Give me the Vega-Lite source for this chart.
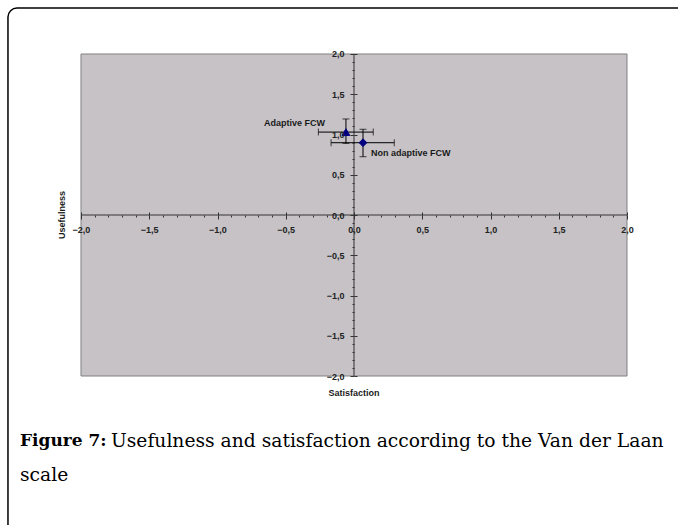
{
  "$schema": "https://vega.github.io/schema/vega-lite/v6.json",
  "width": 678,
  "height": 525,
  "autosize": "none",
  "padding": 0,
  "background": "white",
  "config": {
    "view": {"stroke": null},
    "axis": {"labelFont": "Liberation Sans", "labelFontWeight": "bold", "labelFontSize": 9, "labelColor": "#222222", "tickColor": "#333333", "domain": false, "grid": false, "labelOverlap": false, "labelFlush": false, "zindex": 1}
  },
  "data": {"values": [{"anchor": 1}]},
  "datasets": {
    "pts": [
      {"series": "Adaptive FCW", "sat": -0.059, "use": 1.03, "satLo": -0.261, "satHi": 0.141, "useLo": 0.89, "useHi": 1.193},
      {"series": "Non adaptive FCW", "sat": 0.066, "use": 0.898, "satLo": -0.168, "satHi": 0.295, "useLo": 0.724, "useHi": 1.065}
    ]
  },
  "resolve": {"axis": {"x": "independent", "y": "independent"}},
  "layer": [
    {
      "mark": {"type": "rect", "fillOpacity": 0, "stroke": "#000000", "strokeWidth": 1.5, "cornerRadius": 9},
      "encoding": {
        "x": {"datum": -2.535, "type": "quantitative", "scale": {"domain": [-2.5934, 2.3736], "nice": false, "zero": false}, "axis": null},
        "x2": {"datum": 3},
        "y": {"datum": 2.571, "type": "quantitative", "scale": {"domain": [-3.8509, 2.6708], "nice": false, "zero": false}, "axis": null},
        "y2": {"datum": -5}
      }
    },
    {
      "mark": {"type": "rect", "fill": "#c6c2c6", "stroke": "#808080", "strokeWidth": 1},
      "encoding": {
        "x": {"datum": -2, "type": "quantitative", "scale": {"domain": [-2.5934, 2.3736], "nice": false, "zero": false},
          "axis": {"orient": "bottom", "offset": -310, "zindex": 2, "values": [-2, -1.5, -1, -0.5, 0, 0.5, 1, 1.5, 2], "labelExpr": "replace(format(datum.value, '.1f'), '.', ',')", "tickSize": 4, "labelPadding": 6, "title": null}},
        "x2": {"datum": 2},
        "y": {"datum": 2, "type": "quantitative", "scale": {"domain": [-3.8509, 2.6708], "nice": false, "zero": false},
          "axis": {"orient": "left", "offset": -354, "zindex": 2, "values": [-2, -1.5, -1, -0.5, 0, 0.5, 1, 1.5, 2], "labelExpr": "replace(format(datum.value, '.1f'), '.', ',')", "tickSize": 4, "labelPadding": 6, "title": null}},
        "y2": {"datum": -2}
      }
    },
    {
      "mark": {"type": "rule", "color": "#333333", "strokeWidth": 1},
      "encoding": {
        "x": {"datum": -2, "type": "quantitative", "scale": {"domain": [-2.5934, 2.3736], "nice": false, "zero": false},
          "axis": {"orient": "top", "offset": -215, "zindex": 2, "values": [-2, -1.5, -1, -0.5, 0, 0.5, 1, 1.5, 2], "labels": false, "tickSize": 3, "title": null}},
        "x2": {"datum": 2},
        "y": {"datum": 0, "type": "quantitative", "scale": {"domain": [-3.8509, 2.6708], "nice": false, "zero": false},
          "axis": {"orient": "right", "offset": -324, "zindex": 2, "values": [-2, -1.5, -1, -0.5, 0, 0.5, 1, 1.5, 2], "labels": false, "tickSize": 3, "title": null}}
      }
    },
    {
      "mark": {"type": "rule", "color": "#333333", "strokeWidth": 1},
      "encoding": {
        "x": {"datum": 0, "type": "quantitative", "scale": {"domain": [-2.5934, 2.3736], "nice": false, "zero": false},
          "axis": {"orient": "bottom", "offset": -310, "zindex": 2, "values": [-1.9, -1.8, -1.7, -1.6, -1.4, -1.3, -1.2, -1.1, -0.9, -0.8, -0.7, -0.6, -0.4, -0.3, -0.2, -0.1, 0.1, 0.2, 0.3, 0.4, 0.6, 0.7, 0.8, 0.9, 1.1, 1.2, 1.3, 1.4, 1.6, 1.7, 1.8, 1.9], "labels": false, "tickSize": 2, "title": null}},
        "y": {"datum": -2, "type": "quantitative", "scale": {"domain": [-3.8509, 2.6708], "nice": false, "zero": false},
          "axis": {"orient": "left", "offset": -354, "zindex": 2, "values": [-1.9, -1.8, -1.7, -1.6, -1.4, -1.3, -1.2, -1.1, -0.9, -0.8, -0.7, -0.6, -0.4, -0.3, -0.2, -0.1, 0.1, 0.2, 0.3, 0.4, 0.6, 0.7, 0.8, 0.9, 1.1, 1.2, 1.3, 1.4, 1.6, 1.7, 1.8, 1.9], "labels": false, "tickSize": 2, "title": null}},
        "y2": {"datum": 2}
      }
    },
    {
      "data": {"name": "pts"},
      "mark": {"type": "rule", "color": "#000000", "strokeWidth": 1},
      "encoding": {
        "x": {"field": "satLo", "type": "quantitative", "scale": {"domain": [-2.5934, 2.3736], "nice": false, "zero": false}, "axis": null},
        "x2": {"field": "satHi"},
        "y": {"field": "use", "type": "quantitative", "scale": {"domain": [-3.8509, 2.6708], "nice": false, "zero": false}, "axis": null}
      }
    },
    {
      "data": {"name": "pts"},
      "mark": {"type": "rule", "color": "#000000", "strokeWidth": 1},
      "encoding": {
        "x": {"field": "sat", "type": "quantitative", "scale": {"domain": [-2.5934, 2.3736], "nice": false, "zero": false}, "axis": null},
        "y": {"field": "useLo", "type": "quantitative", "scale": {"domain": [-3.8509, 2.6708], "nice": false, "zero": false}, "axis": null},
        "y2": {"field": "useHi"}
      }
    },
    {
      "data": {"name": "pts"},
      "transform": [{"fold": ["satLo", "satHi"], "as": ["k", "v"]}],
      "mark": {"type": "tick", "orient": "vertical", "color": "#000000", "thickness": 1, "size": 7},
      "encoding": {
        "x": {"field": "v", "type": "quantitative", "scale": {"domain": [-2.5934, 2.3736], "nice": false, "zero": false}, "axis": null},
        "y": {"field": "use", "type": "quantitative", "scale": {"domain": [-3.8509, 2.6708], "nice": false, "zero": false}, "axis": null}
      }
    },
    {
      "data": {"name": "pts"},
      "transform": [{"fold": ["useLo", "useHi"], "as": ["k", "v"]}],
      "mark": {"type": "tick", "orient": "horizontal", "color": "#000000", "thickness": 1, "size": 7},
      "encoding": {
        "x": {"field": "sat", "type": "quantitative", "scale": {"domain": [-2.5934, 2.3736], "nice": false, "zero": false}, "axis": null},
        "y": {"field": "v", "type": "quantitative", "scale": {"domain": [-3.8509, 2.6708], "nice": false, "zero": false}, "axis": null}
      }
    },
    {
      "data": {"name": "pts"},
      "mark": {"type": "point", "filled": true, "opacity": 1, "size": 60, "color": "#000080", "stroke": "#000080", "strokeWidth": 1},
      "encoding": {
        "x": {"field": "sat", "type": "quantitative", "scale": {"domain": [-2.5934, 2.3736], "nice": false, "zero": false}, "axis": null},
        "y": {"field": "use", "type": "quantitative", "scale": {"domain": [-3.8509, 2.6708], "nice": false, "zero": false}, "axis": null},
        "shape": {"field": "series", "type": "nominal", "scale": {"domain": ["Adaptive FCW", "Non adaptive FCW"], "range": ["triangle-up", "diamond"]}, "legend": null}
      }
    },
    {
      "data": {"name": "pts"},
      "transform": [{"filter": "datum.series == 'Adaptive FCW'"}],
      "mark": {"type": "text", "align": "right", "baseline": "middle", "dx": -21, "dy": -9, "font": "Liberation Sans", "fontWeight": "bold", "fontSize": 9, "color": "#1a1a1a"},
      "encoding": {
        "x": {"field": "sat", "type": "quantitative", "scale": {"domain": [-2.5934, 2.3736], "nice": false, "zero": false}, "axis": null},
        "y": {"field": "use", "type": "quantitative", "scale": {"domain": [-3.8509, 2.6708], "nice": false, "zero": false}, "axis": null},
        "text": {"field": "series"}
      }
    },
    {
      "data": {"name": "pts"},
      "transform": [{"filter": "datum.series == 'Non adaptive FCW'"}],
      "mark": {"type": "text", "align": "left", "baseline": "middle", "dx": 8, "dy": 10, "font": "Liberation Sans", "fontWeight": "bold", "fontSize": 9, "color": "#1a1a1a"},
      "encoding": {
        "x": {"field": "sat", "type": "quantitative", "scale": {"domain": [-2.5934, 2.3736], "nice": false, "zero": false}, "axis": null},
        "y": {"field": "use", "type": "quantitative", "scale": {"domain": [-3.8509, 2.6708], "nice": false, "zero": false}, "axis": null},
        "text": {"field": "series"}
      }
    },
    {
      "mark": {"type": "text", "align": "center", "baseline": "middle", "font": "Liberation Sans", "fontWeight": "bold", "fontSize": 9, "color": "#1a1a1a", "text": "Satisfaction"},
      "encoding": {
        "x": {"datum": 0, "type": "quantitative", "scale": {"domain": [-2.5934, 2.3736], "nice": false, "zero": false}, "axis": null},
        "y": {"datum": -2.211, "type": "quantitative", "scale": {"domain": [-3.8509, 2.6708], "nice": false, "zero": false}, "axis": null}
      }
    },
    {
      "mark": {"type": "text", "align": "center", "baseline": "middle", "angle": 270, "font": "Liberation Sans", "fontWeight": "bold", "fontSize": 9, "color": "#1a1a1a", "text": "Usefulness"},
      "encoding": {
        "x": {"datum": -2.139, "type": "quantitative", "scale": {"domain": [-2.5934, 2.3736], "nice": false, "zero": false}, "axis": null},
        "y": {"datum": 0, "type": "quantitative", "scale": {"domain": [-3.8509, 2.6708], "nice": false, "zero": false}, "axis": null}
      }
    },
    {
      "mark": {"type": "text", "align": "left", "baseline": "middle", "font": "DejaVu Serif", "fontWeight": "bold", "fontSize": 17, "color": "#000000", "text": "Figure 7:"},
      "encoding": {
        "x": {"datum": -2.447, "type": "quantitative", "scale": {"domain": [-2.5934, 2.3736], "nice": false, "zero": false}, "axis": null},
        "y": {"datum": -2.807, "type": "quantitative", "scale": {"domain": [-3.8509, 2.6708], "nice": false, "zero": false}, "axis": null}
      }
    },
    {
      "mark": {"type": "text", "align": "left", "baseline": "middle", "font": "DejaVu Serif", "fontSize": 18.7, "color": "#000000", "text": "Usefulness and satisfaction according to the Van der Laan"},
      "encoding": {
        "x": {"datum": -1.78, "type": "quantitative", "scale": {"domain": [-2.5934, 2.3736], "nice": false, "zero": false}, "axis": null},
        "y": {"datum": -2.807, "type": "quantitative", "scale": {"domain": [-3.8509, 2.6708], "nice": false, "zero": false}, "axis": null}
      }
    },
    {
      "mark": {"type": "text", "align": "left", "baseline": "middle", "font": "DejaVu Serif", "fontSize": 18.7, "color": "#000000", "text": "scale"},
      "encoding": {
        "x": {"datum": -2.447, "type": "quantitative", "scale": {"domain": [-2.5934, 2.3736], "nice": false, "zero": false}, "axis": null},
        "y": {"datum": -3.23, "type": "quantitative", "scale": {"domain": [-3.8509, 2.6708], "nice": false, "zero": false}, "axis": null}
      }
    }
  ]
}
